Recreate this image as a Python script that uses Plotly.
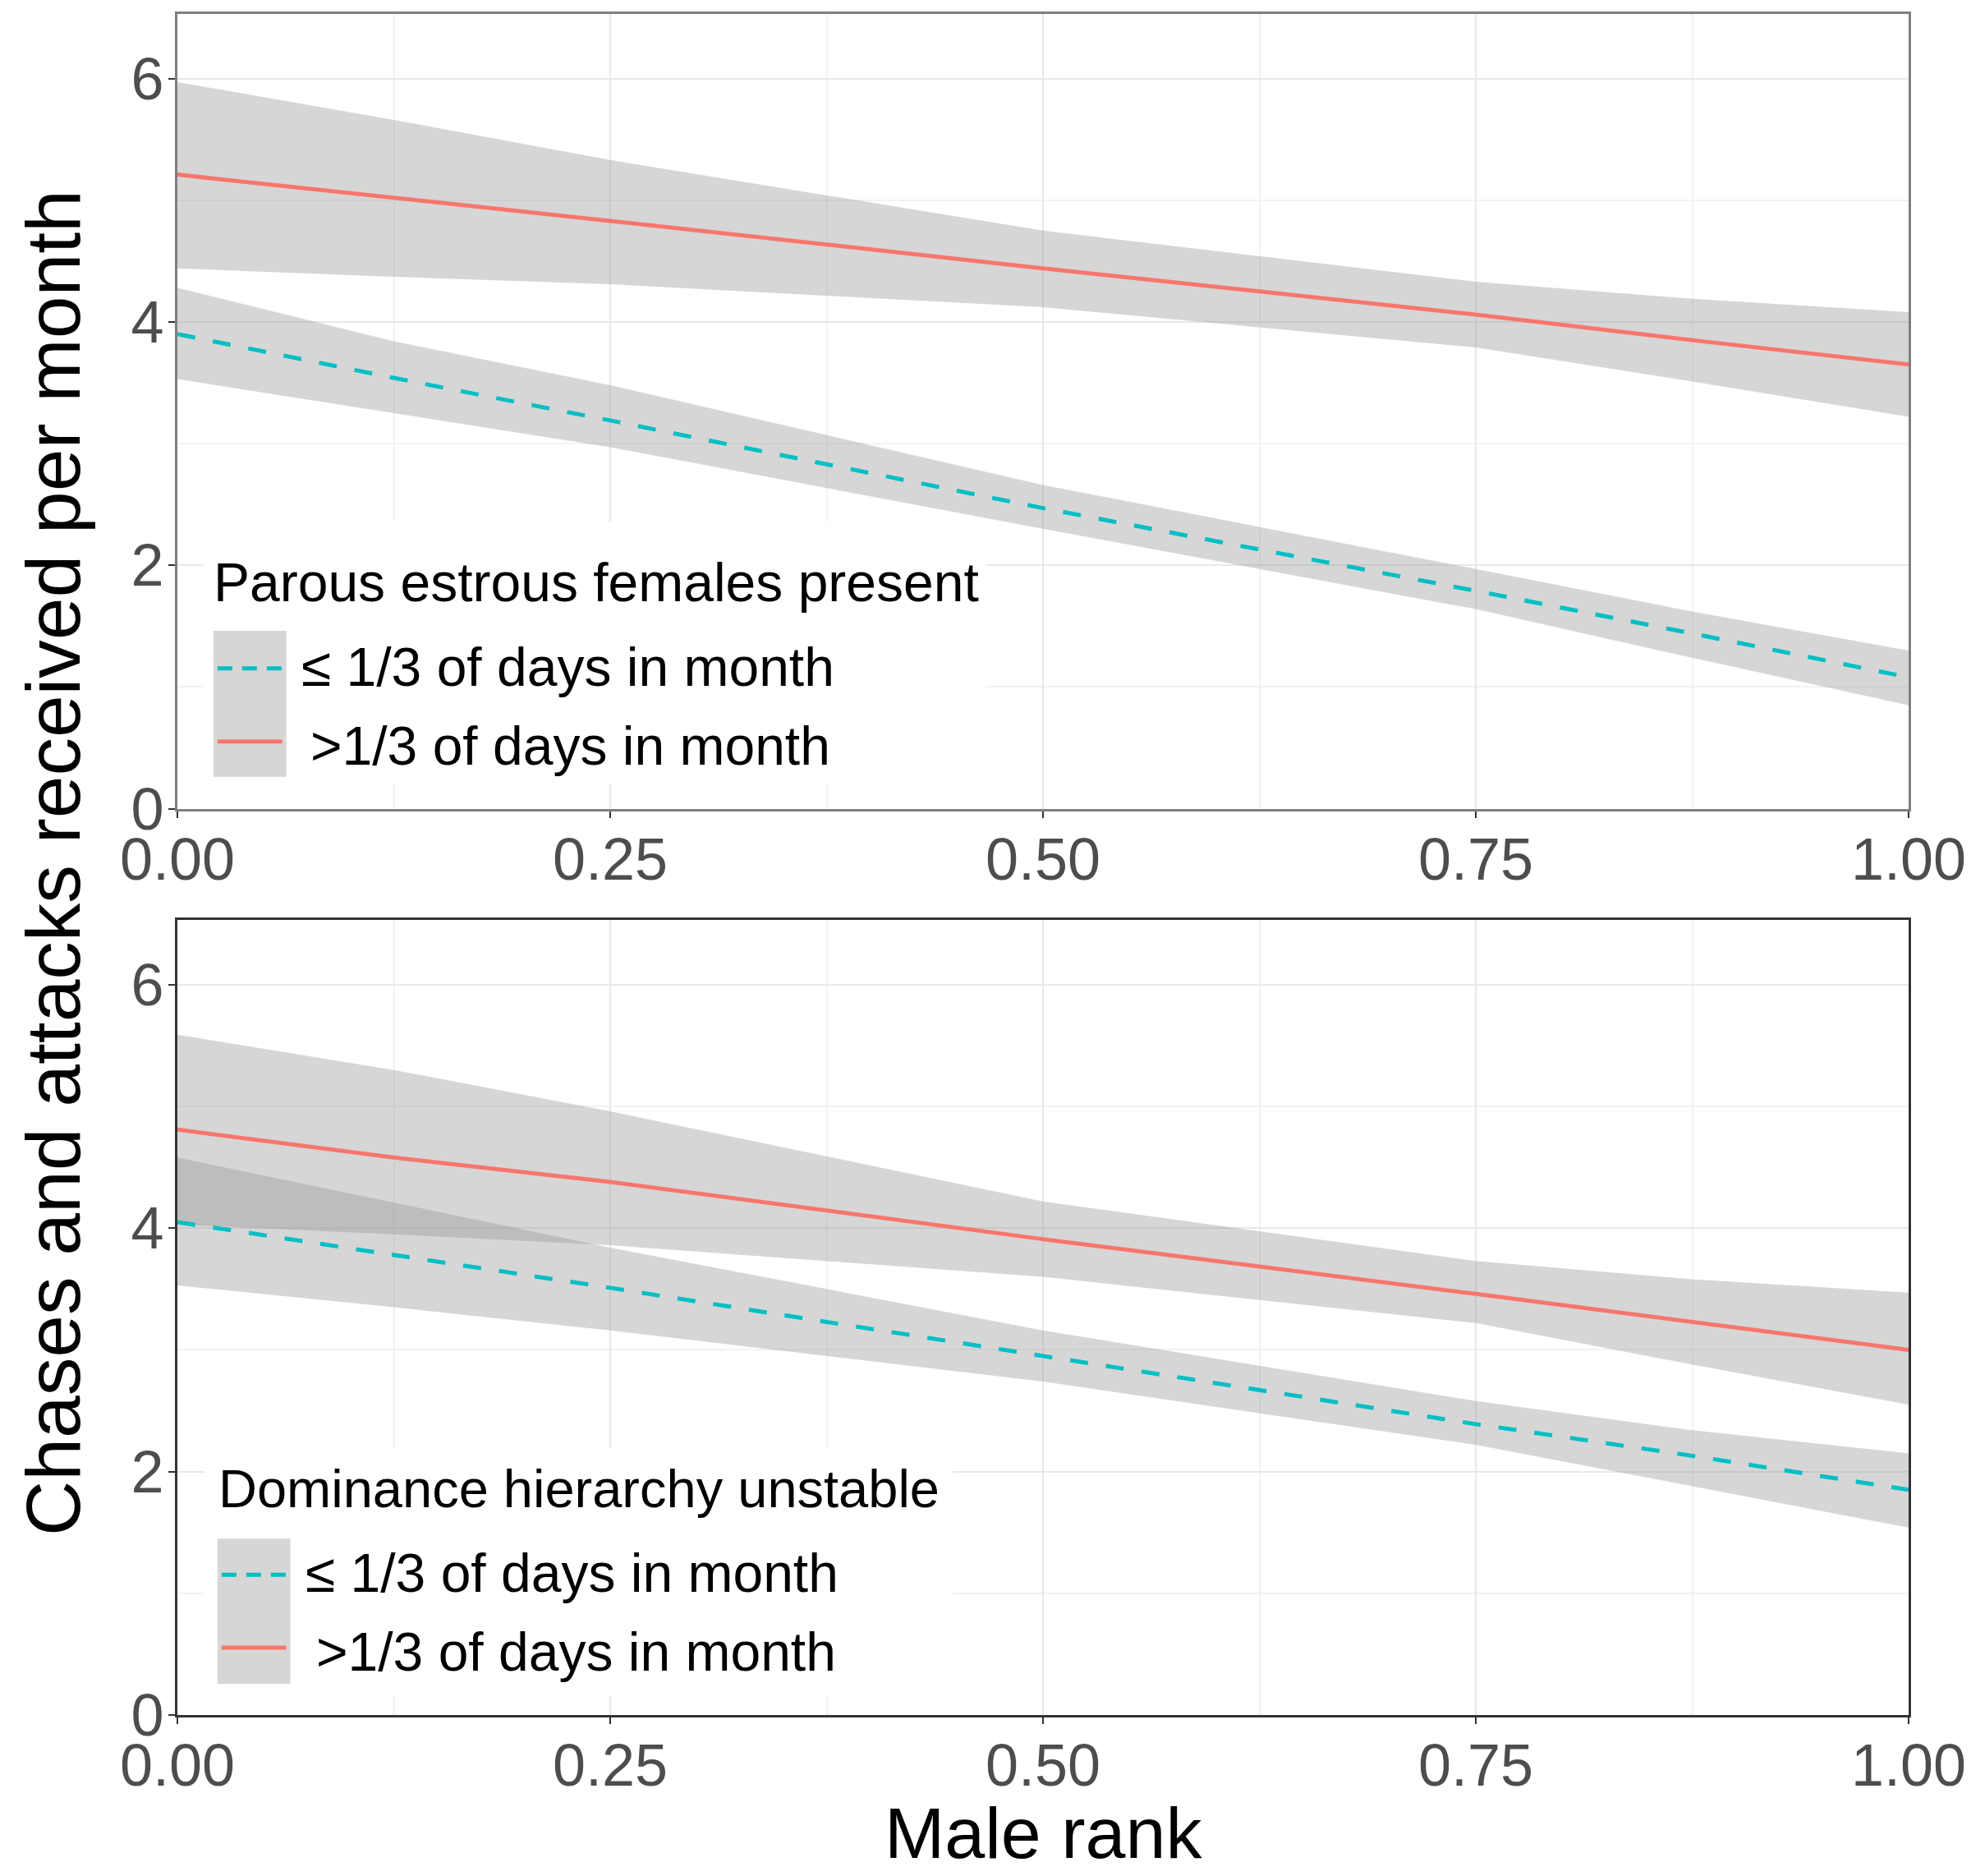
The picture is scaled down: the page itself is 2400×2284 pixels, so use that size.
import plotly.graph_objects as go

# ---------------- data ----------------
male_rank = [0.0, 0.125, 0.25, 0.5, 0.75, 0.875, 1.0]
x_ticks = [0.0, 0.25, 0.5, 0.75, 1.0]
x_ticklabels = ["0.00", "0.25", "0.50", "0.75", "1.00"]
y_ticks = [0, 2, 4, 6]
y_ticklabels = ["0", "2", "4", "6"]

# Panel 1: Parous estrous females present
estrous_low_fit = [3.90, 3.54, 3.19, 2.47, 1.79, 1.44, 1.08]
estrous_low_upper = [4.28, 3.84, 3.48, 2.66, 1.97, 1.62, 1.30]
estrous_low_lower = [3.53, 3.25, 2.97, 2.30, 1.64, 1.24, 0.85]
estrous_high_fit = [5.21, 5.02, 4.83, 4.44, 4.06, 3.85, 3.65]
estrous_high_upper = [5.97, 5.66, 5.33, 4.75, 4.33, 4.19, 4.08]
estrous_high_lower = [4.44, 4.37, 4.31, 4.12, 3.79, 3.51, 3.22]

# Panel 2: Dominance hierarchy unstable
hier_low_fit = [4.05, 3.78, 3.51, 2.95, 2.39, 2.13, 1.85]
hier_low_upper = [4.58, 4.21, 3.84, 3.16, 2.58, 2.34, 2.15]
hier_low_lower = [3.53, 3.35, 3.16, 2.74, 2.22, 1.88, 1.54]
hier_high_fit = [4.81, 4.58, 4.38, 3.91, 3.46, 3.23, 3.00]
hier_high_upper = [5.59, 5.30, 4.96, 4.22, 3.73, 3.58, 3.47]
hier_high_lower = [4.03, 3.95, 3.86, 3.60, 3.22, 2.88, 2.55]

legend_titles = ["Parous estrous females present", "Dominance hierarchy unstable"]
legend_labels = ["\u2264 1/3 of days in month", ">1/3 of days in month"]
x_title = "Male rank"
y_title = "Chases and attacks received per month"

# ---------------- style ----------------
OFF = 8                      # page body margin in the browser
W, H = 2400 - OFF, 2284 - OFF
# plot-area edges in reference-image pixels
L, R, T, B = 216, 2330, 14, 2088
PW, PH = R - L, B - T
RED = "#F8766D"
CYAN = "#00BFC4"
BAND = "rgba(153,153,153,0.4)"
KEYFILL = "#d6d6d6"
FONT = "Liberation Sans, Arial, sans-serif"
YMAX = 6.53


def px(xp):
    return (xp - L) / PW


def py(yp):
    return (B - yp) / PH


top_dom = [py(983), 1.0]
bot_dom = [0.0, py(1119)]

fig = go.Figure()


def add_panel(xa, ya, lo_fit, lo_up, lo_lo, hi_fit, hi_up, hi_lo):
    for up, lo in ((lo_up, lo_lo), (hi_up, hi_lo)):
        fig.add_trace(go.Scatter(
            x=list(male_rank) + list(male_rank[::-1]),
            y=list(up) + list(lo[::-1]),
            fill="toself", fillcolor=BAND, line=dict(width=0),
            mode="lines", hoverinfo="skip", showlegend=False,
            xaxis=xa, yaxis=ya))
    fig.add_trace(go.Scatter(
        x=male_rank, y=lo_fit, mode="lines",
        line=dict(color=CYAN, width=5, dash="22px,22px"),
        name=legend_labels[0], showlegend=False, xaxis=xa, yaxis=ya))
    fig.add_trace(go.Scatter(
        x=male_rank, y=hi_fit, mode="lines",
        line=dict(color=RED, width=5),
        name=legend_labels[1], showlegend=False, xaxis=xa, yaxis=ya))


add_panel("x", "y", estrous_low_fit, estrous_low_upper, estrous_low_lower,
          estrous_high_fit, estrous_high_upper, estrous_high_lower)
add_panel("x2", "y2", hier_low_fit, hier_low_upper, hier_low_lower,
          hier_high_fit, hier_high_upper, hier_high_lower)

tickfont = dict(family=FONT, size=72, color="#4d4d4d")


def xaxis(anchor, border):
    return dict(
        domain=[0, 1], anchor=anchor, range=[0, 1],
        tickmode="array", tickvals=x_ticks, ticktext=x_ticklabels,
        tickfont=tickfont, ticks="outside", ticklen=8, tickwidth=2,
        tickcolor="#333333", ticklabelstandoff=-11, ticklabeloverflow="allow",
        showgrid=True, gridcolor="#e8e8e8", gridwidth=2,
        minor=dict(tickvals=[0.125, 0.375, 0.625, 0.875], showgrid=True,
                   gridcolor="#f2f2f2", gridwidth=1.5, ticks=""),
        showline=True, linecolor=border, linewidth=3, mirror=True,
        zeroline=False, fixedrange=True)


def yaxis(anchor, dom, border):
    return dict(
        domain=dom, anchor=anchor, range=[0, YMAX],
        tickmode="array", tickvals=y_ticks, ticktext=y_ticklabels,
        tickfont=tickfont, ticks="outside", ticklen=8, tickwidth=2,
        tickcolor="#333333", ticklabelstandoff=-9,
        showgrid=True, gridcolor="#e8e8e8", gridwidth=2,
        minor=dict(tickvals=[1, 3, 5], showgrid=True,
                   gridcolor="#f2f2f2", gridwidth=1.5, ticks=""),
        showline=True, linecolor=border, linewidth=3, mirror=True,
        zeroline=False, fixedrange=True)


shapes = []
annotations = []


def add_legend(title, box, key, cyan_y, red_y, title_pos, item1_pos, item2_pos, tsize):
    bx0, by0, bx1, by1 = box
    shapes.append(dict(type="rect", xref="paper", yref="paper",
                       x0=px(bx0), x1=px(bx1), y0=py(by1), y1=py(by0),
                       fillcolor="white", line=dict(width=0), layer="above"))
    kx0, ky0, kx1, ky1 = key
    shapes.append(dict(type="rect", xref="paper", yref="paper",
                       x0=px(kx0), x1=px(kx1), y0=py(ky1), y1=py(ky0),
                       fillcolor=KEYFILL, line=dict(width=0), layer="above"))
    shapes.append(dict(type="line", xref="paper", yref="paper",
                       x0=px(kx0 + 5), x1=px(kx1 - 5), y0=py(cyan_y), y1=py(cyan_y),
                       line=dict(color=CYAN, width=5, dash="18px,12px"), layer="above"))
    shapes.append(dict(type="line", xref="paper", yref="paper",
                       x0=px(kx0 + 5), x1=px(kx1 - 5), y0=py(red_y), y1=py(red_y),
                       line=dict(color=RED, width=5), layer="above"))
    for text, (tx, ty), fs in ((title, title_pos, tsize), (legend_labels[0], item1_pos, 66),
                               (legend_labels[1], item2_pos, 66)):
        annotations.append(dict(text=text, xref="paper", yref="paper",
                                x=px(tx), y=py(ty), xanchor="left", yanchor="middle",
                                showarrow=False,
                                font=dict(family=FONT, size=fs, color="black")))


add_legend(legend_titles[0], (248, 633, 1203, 952), (260, 766, 349, 944), 812, 901,
           (258, 707), (365, 810), (376, 906), 66)
add_legend(legend_titles[1], (249, 1763, 1163, 2065), (265, 1873, 354, 2050), 1917, 2006,
           (264, 1812), (370, 1915), (383, 2011), 65)

annotations.append(dict(text=y_title, xref="paper", yref="paper",
                        x=px(64), y=py(1049), xanchor="center", yanchor="middle",
                        textangle=-90, showarrow=False,
                        font=dict(family=FONT, size=93, color="black")))
annotations.append(dict(text=x_title, xref="paper", yref="paper",
                        x=0.5, y=py(2232), xanchor="center", yanchor="middle",
                        showarrow=False,
                        font=dict(family=FONT, size=88, color="black")))

fig.update_layout(
    width=W, height=H,
    margin=dict(l=L - OFF, r=2400 - R, t=T - OFF, b=2284 - B, pad=0),
    paper_bgcolor="white", plot_bgcolor="white",
    showlegend=False,
    xaxis=xaxis("y", "#7f7f7f"),
    yaxis=yaxis("x", top_dom, "#7f7f7f"),
    xaxis2=xaxis("y2", "#333333"),
    yaxis2=yaxis("x2", bot_dom, "#333333"),
    shapes=shapes, annotations=annotations,
    font=dict(family=FONT),
)

fig.write_html("out.html")
